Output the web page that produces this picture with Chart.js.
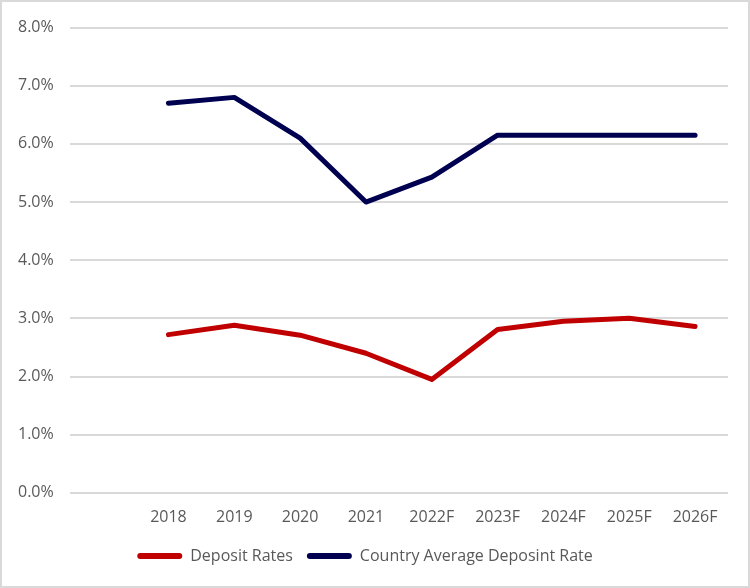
<!DOCTYPE html>
<html>
<head>
<meta charset="utf-8">
<script src="https://cdn.jsdelivr.net/npm/chart.js@4"></script>
<style>
  html, body { margin: 0; padding: 0; background: #fff; }
  #wrap { position: relative; width: 746px; height: 584px; border: 2px solid #d9d9d9; }
</style>
</head>
<body>
<div id="wrap"><canvas id="rateChart"></canvas></div>
<script>
var years = ['', '2018', '2019', '2020', '2021', '2022F', '2023F', '2024F', '2025F', '2026F'];
var depositRates = [null, 2.72, 2.88, 2.71, 2.40, 1.95, 2.81, 2.95, 3.00, 2.86];
var countryAverage = [null, 6.70, 6.80, 6.10, 5.00, 5.43, 6.15, 6.15, 6.15, 6.15];

document.addEventListener('DOMContentLoaded', function() {
  var ctx = document.getElementById('rateChart').getContext('2d');
  Chart.defaults.font.family = "'Open Sans', 'Liberation Sans', sans-serif";
  Chart.defaults.color = '#595959';

  new Chart(ctx, {
    type: 'line',
    data: {
      labels: years,
      datasets: [{
        label: 'Deposit Rates',
        data: depositRates,
        borderColor: '#c00000',
        backgroundColor: '#c00000',
        borderWidth: 5,
        borderCapStyle: 'round',
        borderJoinStyle: 'round',
        pointRadius: 0,
        tension: 0
      }, {
        label: 'Country Average Deposint Rate',
        data: countryAverage,
        borderColor: '#000050',
        backgroundColor: '#000050',
        borderWidth: 5,
        borderCapStyle: 'round',
        borderJoinStyle: 'round',
        pointRadius: 0,
        tension: 0
      }]
    },
    options: {
      responsive: true,
      maintainAspectRatio: false,
      animation: false,
      layout: { autoPadding: false, padding: { left: 0, right: 20, top: 22, bottom: 12 } },
      scales: {
        x: {
          offset: true,
          grid: { display: false },
          border: { display: false },
          ticks: { font: { size: 16 }, padding: 7, maxRotation: 0, autoSkip: false }
        },
        y: {
          min: 0,
          max: 8,
          ticks: {
            stepSize: 1,
            font: { size: 16 },
            padding: 16,
            callback: function(v) { return v.toFixed(1) + '%'; }
          },
          grid: { color: '#d9d9d9', lineWidth: 2, drawTicks: false },
          border: { display: false }
        }
      },
      plugins: {
        legend: {
          position: 'bottom',
          labels: {
            boxWidth: 45,
            boxHeight: 6,
            padding: 14,
            font: { size: 16 },
            useBorderRadius: true,
            borderRadius: 3,
            generateLabels: function(chart) {
              return Chart.defaults.plugins.legend.labels.generateLabels(chart).map(function(l) {
                l.lineWidth = 0;
                return l;
              });
            }
          }
        },
        tooltip: { enabled: false }
      }
    }
  });
});
</script>
</body>
</html>
